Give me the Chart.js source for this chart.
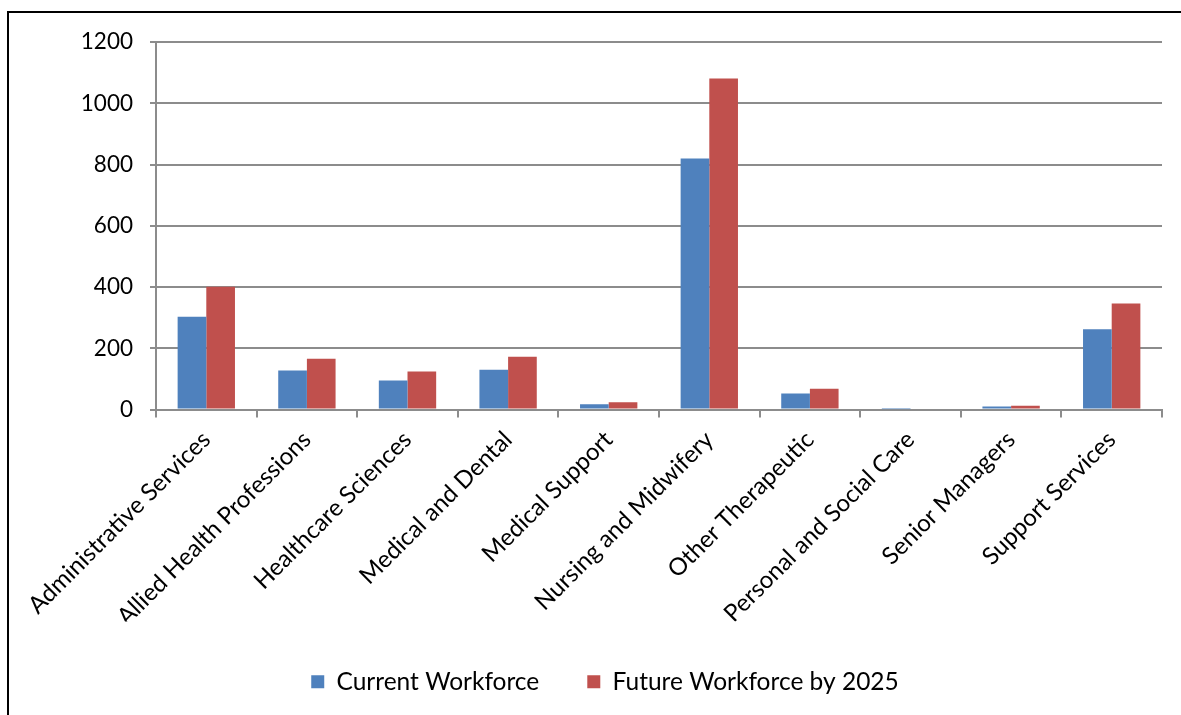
<!DOCTYPE html>
<html>
<head>
<meta charset="utf-8">
<script src="https://cdn.jsdelivr.net/npm/chart.js@4"></script>
<style>
  body { margin: 0; background: #fff; }
  #frame { position: absolute; left: 7px; top: 11px; width: 1200px; height: 800px; border: 2px solid #000; }
  #wrap { position: absolute; left: 0; top: 0; }
</style>
</head>
<body>
<div id="frame"></div>
<div id="wrap"><canvas id="workforce" width="1181" height="715"></canvas></div>
<script>
const categories = [
  "Administrative Services",
  "Allied Health Professions",
  "Healthcare Sciences",
  "Medical and Dental",
  "Medical Support",
  "Nursing and Midwifery",
  "Other Therapeutic",
  "Personal and Social Care",
  "Senior Managers",
  "Support Services",
];
const currentWorkforce = [303, 127, 95, 130, 17, 820, 52, 1, 10, 262];
const futureWorkforce = [401, 166, 124, 172, 24, 1081, 68, 3, 12, 346];

const gridGrey = "#8c8c8c";
const fontName = "Lato, 'Liberation Sans', sans-serif";

const ctx = document.getElementById("workforce");
const workforceChart = new Chart(ctx, {
  type: "bar",
  data: {
    labels: categories,
    datasets: [
      {
        label: "Current Workforce",
        backgroundColor: "#4F81BD",
        data: currentWorkforce,
        categoryPercentage: 0.57,
        barPercentage: 1,
      },
      {
        label: "Future Workforce by 2025",
        backgroundColor: "#C0504D",
        data: futureWorkforce,
        categoryPercentage: 0.57,
        barPercentage: 1,
      },
    ],
  },
  options: {
    responsive: false,
    animation: false,
    layout: {
      // left padding shifts the legend centre; y axis width makes up the rest
      padding: { top: 42, right: 19, bottom: 11, left: 48 },
    },
    plugins: {
      tooltip: { enabled: false },
      legend: {
        display: true,
        position: "bottom",
        labels: {
          boxWidth: 13,
          boxHeight: 13,
          padding: 48,
          color: "#000",
          font: { family: fontName, size: 24.5 },
        },
      },
    },
    scales: {
      x: {
        afterFit: (scale) => {
          scale.height = 212;
        },
        grid: {
          offset: true,
          drawOnChartArea: false,
          drawTicks: true,
          tickLength: 8,
          color: gridGrey,
          lineWidth: 2,
        },
        border: { color: gridGrey, width: 2 },
        ticks: {
          minRotation: 45,
          maxRotation: 45,
          autoSkip: false,
          padding: 8,
          color: "#000",
          font: { family: fontName, size: 24 },
        },
      },
      y: {
        min: 0,
        max: 1200,
        afterFit: (scale) => {
          scale.width = 108;
        },
        grid: {
          color: gridGrey,
          lineWidth: 2,
          tickLength: 6,
        },
        border: { color: gridGrey, width: 2 },
        ticks: {
          stepSize: 200,
          padding: 17,
          color: "#000",
          font: { family: fontName, size: 22.5 },
          callback: (value) => String(value),
        },
      },
    },
  },
});
</script>
</body>
</html>
